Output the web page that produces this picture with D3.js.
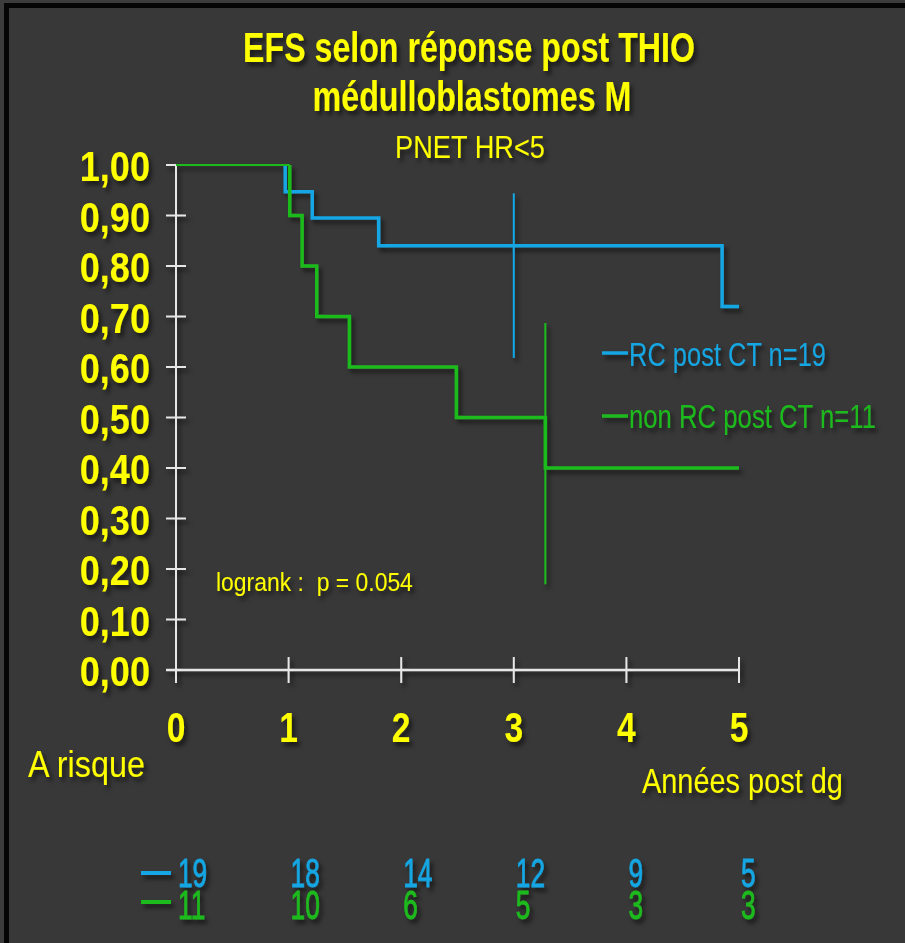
<!DOCTYPE html>
<html>
<head>
<meta charset="utf-8">
<script src="https://cdn.jsdelivr.net/npm/d3@7"></script>
<style>
  html, body { margin: 0; padding: 0; background: #3a3a3a; }
  svg { display: block; }
  text { white-space: pre; }
</style>
</head>
<body>
<svg id="chart" width="905" height="943"></svg>
<script>
// ---------- DATA ----------
const seriesNames = ["RC post CT n=19", "non RC post CT n=11"];
const rcTimes   = [0, 0.97, 1.21, 1.80, 4.85, 5.0];
const rcSurv    = [1.00, 0.947, 0.895, 0.84, 0.72, 0.72];
const nonTimes  = [0, 1.01, 1.12, 1.25, 1.54, 2.49, 3.28, 5.0];
const nonSurv   = [1.00, 0.90, 0.80, 0.70, 0.60, 0.50, 0.40, 0.40];
const censorTimes = [3.0, 3.28];          // RC, non RC
const censorLow   = [0.618, 0.17];
const censorHigh  = [0.944, 0.687];
const xTicks = [0, 1, 2, 3, 4, 5];
const yTicks = [0, 0.1, 0.2, 0.3, 0.4, 0.5, 0.6, 0.7, 0.8, 0.9, 1.0];
const yTickLabels = ["0,00","0,10","0,20","0,30","0,40","0,50","0,60","0,70","0,80","0,90","1,00"];
const atRiskRC  = [19, 18, 14, 12, 9, 5];
const atRiskNon = [11, 10, 6, 5, 3, 3];
const titleLines = ["EFS selon réponse post THIO", "médulloblastomes M"];
const subtitle = "PNET HR<5";
const xLabel = "Années post dg";
const riskLabel = "A risque";
const logrankText = "logrank :  p = 0.054";

// ---------- STYLE ----------
const BLUE = "#14a6e3", GREEN = "#1fbb1f", YELLOW = "#ffff00", AXIS = "#e6e6e6";
const FONT = "'Liberation Sans', Arial, sans-serif";

const svg = d3.select("#chart");
const defs = svg.append("defs");
const f = defs.append("filter").attr("id", "sh").attr("x", "-20%").attr("y", "-20%").attr("width", "140%").attr("height", "160%");
f.append("feDropShadow").attr("dx", 3).attr("dy", 4).attr("stdDeviation", 2.2)
  .attr("flood-color", "#000").attr("flood-opacity", 0.55);

// background + frame
svg.append("rect").attr("width", 905).attr("height", 943).attr("fill", "#3c3c3c");
svg.append("rect").attr("x", 9).attr("y", 8).attr("width", 896).attr("height", 935).attr("fill", "#383838");
svg.append("rect").attr("x", 4).attr("y", 3).attr("width", 901).attr("height", 5).attr("fill", "#050505");
svg.append("rect").attr("x", 4).attr("y", 3).attr("width", 5).attr("height", 940).attr("fill", "#050505");

const x = d3.scaleLinear().domain([0, 5]).range([176, 739]);
const y = d3.scaleLinear().domain([0, 1]).range([670, 165]);

// text helper: horizontally condensed real text
function txt(parent, px, py, str, o) {
  const g = parent.append("g").attr("transform", `translate(${px},${py})`);
  const t = g.append("text")
    .attr("text-anchor", o.anchor || "start")
    .attr("font-family", FONT)
    .attr("font-size", o.size)
    .attr("font-weight", o.weight || "normal")
    .attr("fill", o.fill || YELLOW)
    .text(str);
  if (o.stroke) t.attr("stroke", o.fill || YELLOW).attr("stroke-width", o.stroke);
  let sx = o.sx || 1;
  if (o.width) {
    const w = t.node().getComputedTextLength();
    sx = o.width / w;
  }
  g.attr("transform", `translate(${px},${py}) scale(${sx},1)`);
  return g;
}

const layer = svg.append("g").attr("filter", "url(#sh)");

// titles
txt(layer, 469, 62, titleLines[0], { size: 42, weight: "bold", anchor: "middle", width: 452 });
txt(layer, 472, 111, titleLines[1], { size: 42, weight: "bold", anchor: "middle", width: 319 });
txt(layer, 470, 158, subtitle, { size: 31, anchor: "middle", width: 150 });

// axes
const axG = layer.append("g");
axG.append("line").attr("x1", x(0)).attr("x2", x(0)).attr("y1", y(1)).attr("y2", y(0) + 13)
  .attr("stroke", AXIS).attr("stroke-width", 2);
axG.append("line").attr("x1", x(0) - 10).attr("x2", x(5)).attr("y1", y(0)).attr("y2", y(0))
  .attr("stroke", AXIS).attr("stroke-width", 2.5);
axG.selectAll(".yt").data(yTicks).enter().append("line")
  .attr("x1", x(0) - 10).attr("x2", x(0) + 10).attr("y1", d => y(d)).attr("y2", d => y(d))
  .attr("stroke", AXIS).attr("stroke-width", 2);
axG.selectAll(".xt").data(xTicks.slice(1)).enter().append("line")
  .attr("x1", d => x(d)).attr("x2", d => x(d)).attr("y1", y(0) - 13).attr("y2", y(0) + 13)
  .attr("stroke", AXIS).attr("stroke-width", 2);

// tick labels
yTicks.forEach((v, i) => {
  txt(layer, 150, y(v) + 16, yTickLabels[i], { size: 43, weight: "bold", anchor: "end", sx: 0.84 });
});
xTicks.forEach(v => {
  txt(layer, x(v), 742, String(v), { size: 42, weight: "bold", anchor: "middle", sx: 0.8 });
});

// step curves
function stepPts(times, surv) {
  const pts = [];
  for (let i = 0; i < times.length; i++) {
    if (i > 0) pts.push([times[i], surv[i - 1]]);
    pts.push([times[i], surv[i]]);
  }
  return pts;
}
const line = d3.line().x(d => x(d[0])).y(d => y(d[1]));
const curves = layer.append("g").attr("fill", "none").attr("stroke-linejoin", "miter");

// censor / CI bars
censorTimes.forEach((t, i) => {
  curves.append("line").attr("x1", x(t)).attr("x2", x(t))
    .attr("y1", y(censorHigh[i])).attr("y2", y(censorLow[i]))
    .attr("stroke", i === 0 ? BLUE : GREEN).attr("stroke-width", 2);
});

curves.append("path").attr("d", line(stepPts(rcTimes, rcSurv).slice(1)))
  .attr("stroke", BLUE).attr("stroke-width", 3.5);
curves.append("path").attr("d", line([[nonTimes[0], nonSurv[0]], [nonTimes[1], nonSurv[0]]]))
  .attr("stroke", GREEN).attr("stroke-width", 2);
curves.append("path").attr("d", line(stepPts(nonTimes, nonSurv).slice(1)))
  .attr("stroke", GREEN).attr("stroke-width", 3.5);

// legend
const legY = [353, 416];
const legBase = [366, 428];
const legW = [197, 247];
[BLUE, GREEN].forEach((c, i) => {
  layer.append("line").attr("x1", 602).attr("x2", 628).attr("y1", legY[i]).attr("y2", legY[i])
    .attr("stroke", c).attr("stroke-width", 3.5);
  txt(layer, 629, legBase[i], seriesNames[i], { size: 33, fill: c, width: legW[i] });
});

// logrank
txt(layer, 216, 591, logrankText, { size: 26, width: 197 });

// axis labels
txt(layer, 28, 777, riskLabel, { size: 36, width: 117 });
txt(layer, 642, 793, xLabel, { size: 36, width: 201 });

// at risk table
const riskY = [887, 919];
const riskDashY = [873, 902];
[[atRiskRC, BLUE], [atRiskNon, GREEN]].forEach(([arr, c], r) => {
  layer.append("line").attr("x1", 141).attr("x2", 171).attr("y1", riskDashY[r]).attr("y2", riskDashY[r])
    .attr("stroke", c).attr("stroke-width", 4);
  arr.forEach((n, i) => {
    txt(layer, x(xTicks[i]) + 2, riskY[r], String(n), { size: 41, fill: c, sx: 0.64, stroke: 0.9 });
  });
});
</script>
</body>
</html>
